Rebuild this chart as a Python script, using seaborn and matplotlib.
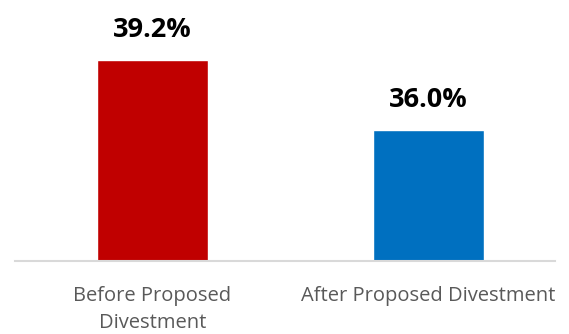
import matplotlib
matplotlib.use("Agg")
import matplotlib.pyplot as plt
import seaborn as sns
import pandas as pd

categories = ["Before Proposed\nDivestment", "After Proposed Divestment"]
values = [39.2, 36.0]
colors = ["#C00000", "#0070C0"]

sns.set_style("white")
plt.rcParams['font.family'] = ['Open Sans', 'DejaVu Sans']

df = pd.DataFrame({"cat": categories, "val": values})

fig = plt.figure(figsize=(5.69, 3.34), dpi=100)
ax = fig.add_axes([0, 0.2186, 1, 0.7814])
sns.barplot(data=df, x="cat", y="val", hue="cat", palette=colors, legend=False,
            width=0.402, ax=ax, saturation=1)

ax.set_ylim(30, 41.94)
ax.set_xlim(-0.5525, 1.509)
ax.set_xlabel("")
ax.set_ylabel("")
ax.set_yticks([])
for s in ["top", "right", "left"]:
    ax.spines[s].set_visible(False)
ax.spines["bottom"].set_color("#D9D9D9")
ax.spines["bottom"].set_linewidth(1.5)
ax.spines["bottom"].set_bounds(-0.498, 1.458)

ax.tick_params(axis="x", length=0, pad=18, labelsize=14.5, labelcolor="#595959")
for lbl in ax.get_xticklabels():
    lbl.set_linespacing(1.5)
    lbl.set_verticalalignment("top")

for i, v in enumerate(values):
    ax.annotate(f"{v:.1f}%", (i, v), xytext=(0, 16.5), textcoords="offset points",
                ha="center", va="baseline", fontsize=19.5, fontweight="bold", color="black")

fig.savefig("out.png", dpi=100)
